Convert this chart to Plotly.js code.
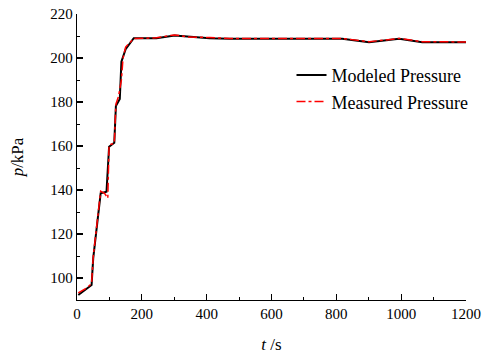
<!DOCTYPE html>
<html><head><meta charset="utf-8">
<script src="https://cdn.plot.ly/plotly-3.0.1.min.js"></script>
<style>html,body{margin:0;padding:0;background:#fff}#c{width:485px;height:360px}</style>
</head><body><div id="c"></div>
<script>
const modeledT = [4, 45, 50, 73, 91, 99, 115, 120, 132, 137, 150, 175, 245, 301, 409, 471, 818, 901, 994, 1065, 1200];
const modeledP = [92.3, 96.8, 108.9, 138.5, 139.2, 159.7, 161.5, 178.2, 181.4, 198.3, 204, 209, 209, 210.2, 209, 208.8, 208.8, 207.2, 208.7, 207.2, 207.2];
const measuredT = [4, 30, 45, 50, 73, 85, 95, 99, 115, 120, 128, 137, 142, 150, 175, 245, 301, 340, 409, 471, 818, 901, 994, 1065, 1200];
const measuredP = [93.2, 95.5, 97.5, 109.5, 139.5, 138.5, 136.3, 160.5, 161.2, 179, 182.5, 190, 200, 205, 208.8, 209.2, 210.5, 209.6, 209.3, 208.9, 208.9, 207.4, 208.9, 207.4, 207.3];
const xTicks = [0, 200, 400, 600, 800, 1000, 1200];
const yTicks = [100, 120, 140, 160, 180, 200, 220];

const font = {family: 'Liberation Serif, Times New Roman, serif', color: '#000'};
const data = [
  {x: modeledT, y: modeledP, mode: 'lines', name: 'Modeled Pressure', line: {color: '#000', width: 2}},
  {x: measuredT, y: measuredP, mode: 'lines', name: 'Measured Pressure', line: {color: '#ff0000', width: 1.5, dash: 'dashdot'}}
];
const layout = {
  width: 485, height: 360,
  margin: {l: 77, r: 18, t: 14, b: 60},
  paper_bgcolor: '#fff', plot_bgcolor: '#fff',
  font: Object.assign({size: 15}, font),
  showlegend: true,
  legend: {x: 0.55, y: 0.85, xanchor: 'left', yanchor: 'top', bgcolor: 'rgba(0,0,0,0)', font: Object.assign({size: 18}, font), tracegroupgap: 0},
  xaxis: {
    range: [0, 1200], tickvals: xTicks, ticktext: xTicks.map(String),
    showgrid: false, zeroline: false, showline: true, linecolor: '#000', linewidth: 1.2,
    ticks: 'inside', ticklen: 6, tickwidth: 1.2, tickcolor: '#000',
    minor: {dtick: 100, ticks: 'inside', ticklen: 3, tickwidth: 1, tickcolor: '#000', showgrid: false},
    tickfont: Object.assign({size: 15}, font),
    title: {text: '<i>t</i> /s', font: Object.assign({size: 17}, font), standoff: 16}
  },
  yaxis: {
    range: [90, 220], tickvals: yTicks, ticktext: yTicks.map(String),
    showgrid: false, zeroline: false, showline: true, linecolor: '#000', linewidth: 1.2,
    ticks: 'inside', ticklen: 6, tickwidth: 1.2, tickcolor: '#000',
    minor: {dtick: 10, ticks: 'inside', ticklen: 3, tickwidth: 1, tickcolor: '#000', showgrid: false},
    tickfont: Object.assign({size: 15}, font),
    title: {text: '<i>p</i>/kPa', font: Object.assign({size: 17}, font), standoff: 22}
  }
};
Plotly.newPlot('c', data, layout, {displayModeBar: false, staticPlot: true});
</script></body></html>
